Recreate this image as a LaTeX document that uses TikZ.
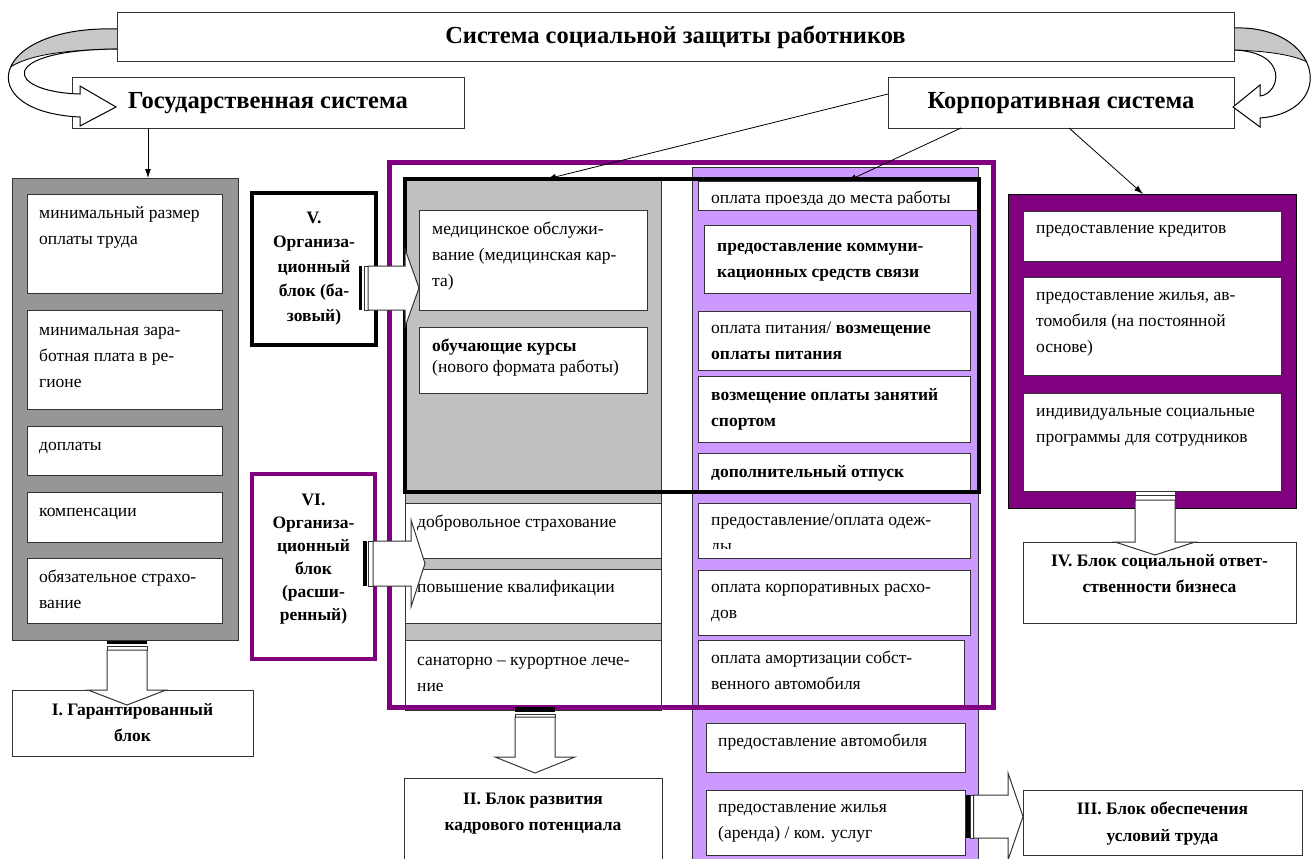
\documentclass[tikz,border=0pt]{standalone}
\usepackage{fontspec}
\setmainfont{Liberation Serif}
\usetikzlibrary{positioning,arrows.meta}
\definecolor{colgray}{RGB}{150,150,150}
\definecolor{midgray}{RGB}{192,192,192}
\definecolor{arrowgray}{RGB}{200,200,200}
\definecolor{lilac}{RGB}{204,153,255}
\definecolor{plum}{RGB}{128,0,128}

\begin{document}
\begin{tikzpicture}[x=1pt, y=-1pt,
  cell/.style={draw=black!80, fill=white, line width=1pt, inner sep=0pt, outer sep=0pt, anchor=north west},
  celltext/.style={font=\fontsize{17.5}{26}\selectfont, align=left, inner sep=0pt},
  boldtext/.style={celltext, font=\bfseries\fontsize{17.5}{26}\selectfont},
  blocktext/.style={font=\bfseries\fontsize{17.5}{26.5}\selectfont, align=center, inner sep=0pt,
    execute at end node=\strut},
  headtext/.style={font=\bfseries\fontsize{24.5}{30}\selectfont},
  blockarrow/.style={draw=black!80, fill=white, line width=1pt},
  thinarrow/.style={-{Latex[length=9pt,width=6pt]}, line width=0.8pt},
]
  \useasboundingbox (0,0) rectangle (1312,859);
  \clip (0,0) rectangle (1312,859);

  % Top row
  \node[cell, headtext, minimum width=392, minimum height=50] (gos) at (72,78) {Государственная система};
  \node[cell, headtext, minimum width=346, minimum height=50] (corp) at (888,78) {Корпоративная система};

  % Curved arrow, left
  \path[fill=white] (117,29) .. controls (-10,25) and (-30,112) .. (80,117) -- (80,126) -- (116,107) -- (80,86) -- (80,94) .. controls (5,92) and (-5,50) .. (117,49) -- cycle;
  \begin{scope}
    \clip (117,29) .. controls (-10,25) and (-30,112) .. (80,117) -- (80,94) .. controls (5,92) and (-5,50) .. (117,49) -- cycle;
    \fill[arrowgray] (120,0) -- (120,49) .. controls (60,50) and (20,55) .. (0,75) -- (0,0) -- cycle;
    \draw[line width=0.8pt] (120,49) .. controls (60,50) and (20,55) .. (0,75);
  \end{scope}
  \draw[line width=1pt] (117,29) .. controls (-10,25) and (-30,112) .. (80,117) -- (80,126) -- (116,107) -- (80,86) -- (80,94) .. controls (5,92) and (-5,50) .. (117,49);

  % Curved arrow, right
  \path[fill=white] (1234,28) .. controls (1322,25) and (1338,112) .. (1260,118) -- (1260,127) -- (1233,107) -- (1260,85) -- (1260,96) .. controls (1280,94) and (1290,52) .. (1234,50) -- cycle;
  \begin{scope}
    \clip (1234,28) .. controls (1322,25) and (1338,112) .. (1260,118) -- (1260,96) .. controls (1280,94) and (1290,52) .. (1234,50) -- cycle;
    \fill[arrowgray] (1230,0) -- (1230,50) .. controls (1280,51) and (1310,58) .. (1320,72) -- (1320,0) -- cycle;
    \draw[line width=0.8pt] (1230,50) .. controls (1280,51) and (1310,58) .. (1320,72);
  \end{scope}
  \draw[line width=1pt] (1234,28) .. controls (1322,25) and (1338,112) .. (1260,118) -- (1260,127) -- (1233,107) -- (1260,85) -- (1260,96) .. controls (1280,94) and (1290,52) .. (1234,50);

  \node[cell, headtext, minimum width=1117, minimum height=49] (title) at (117,13) {Система социальной защиты работников};

  % Left column
  \node[cell, fill=colgray, minimum width=226, minimum height=462] (gcol) at (12,178) {};
  \node[cell, minimum width=195, minimum height=99] (gmin1) at (27,194) {};
  \node[celltext, below right=6pt and 12pt of gmin1.north west] {\strut минимальный размер\\оплаты труда};
  \node[cell, minimum width=195, minimum height=99] (gmin2) at (27,310) {};
  \node[celltext, below right=7pt and 12pt of gmin2.north west] {\strut минимальная зара-\\ботная плата в ре-\\гионе};
  \node[cell, minimum width=195, minimum height=49] (gdop) at (27,426) {};
  \node[celltext, below right=6pt and 12pt of gdop.north west] {\strut доплаты};
  \node[cell, minimum width=195, minimum height=50] (gkomp) at (27,492) {};
  \node[celltext, below right=6pt and 12pt of gkomp.north west] {\strut компенсации};
  \node[cell, minimum width=195, minimum height=65] (gobz) at (27,558) {};
  \node[celltext, below right=6pt and 12pt of gobz.north west] {\strut обязательное страхо-\\вание};
  \node[cell, blocktext, minimum width=241, minimum height=66] (blockI) at (12,690) {\strut I. Гарантированный\\блок};

  % Middle column
  \node[cell, fill=midgray, minimum width=256, minimum height=528] (mcol) at (405,179) {};
  \node[cell, minimum width=228, minimum height=100] (med) at (419,210) {};
  \node[celltext, below right=6pt and 13pt of med.north west] {\strut медицинское обслужи-\\вание (медицинская кар-\\та)};
  \node[cell, minimum width=228, minimum height=66] (kurs) at (419,327) {};
  \node[celltext, below right=6pt and 13pt of kurs.north west] {\strut\textbf{обучающие курсы}\\[-5pt](нового формата работы)};
  \node[cell, minimum width=256, minimum height=55] (dobr) at (405,503) {};
  \node[celltext, below right=6pt and 12pt of dobr.north west] {\strut добровольное страхование};
  \node[cell, minimum width=256, minimum height=54] (povysh) at (405,569) {};
  \node[celltext, below right=5pt and 12pt of povysh.north west] {\strut повышение квалификации};
  \node[cell, minimum width=256, minimum height=70] (sanat) at (405,640) {};
  \node[celltext, below right=7pt and 12pt of sanat.north west] {\strut санаторно – курортное лече-\\ние};
  \node[cell, minimum width=258, minimum height=100] (blockII) at (404,778) {};
  \node[blocktext, below=7.5pt of blockII.north] {\strut II. Блок развития\\кадрового потенциала};

  % Purple column
  \node[cell, fill=lilac, minimum width=286, minimum height=720] (pcol) at (692,167) {};
  \node[cell, minimum width=279, minimum height=29] (p1) at (698,181) {};
  \begin{scope}
    \clip (p1.north west) rectangle ([yshift=6pt]p1.south east);
    \node[celltext, below right=4pt and 13pt of p1.north west] {\strut оплата проезда до места работы};
  \end{scope}
  \node[cell, minimum width=266, minimum height=68] (p2) at (704,225) {};
  \node[boldtext, below right=8pt and 13pt of p2.north west] {\strut предоставление коммуни-\\кационных средств связи};
  \node[cell, minimum width=272, minimum height=59] (p3) at (698,311) {};
  \node[celltext, below right=4pt and 13pt of p3.north west] {\strut оплата питания/ \textbf{возмещение}\\\textbf{оплаты питания}};
  \node[cell, minimum width=272, minimum height=66] (p4) at (698,376) {};
  \node[boldtext, below right=6pt and 13pt of p4.north west] {\strut возмещение оплаты занятий\\спортом};
  \node[cell, minimum width=272, minimum height=37] (p5) at (698,453) {};
  \node[boldtext, below right=6pt and 13pt of p5.north west] {\strut дополнительный отпуск};
  \node[cell, minimum width=272, minimum height=55] (p6) at (698,503) {};
  \begin{scope}
    \clip (p6.north west) rectangle ([yshift=10pt]p6.south east);
    \node[celltext, below right=4pt and 13pt of p6.north west] {\strut предоставление/оплата одеж-\\ды};
  \end{scope}
  \node[cell, minimum width=272, minimum height=65] (p7) at (698,570) {};
  \node[celltext, below right=4pt and 13pt of p7.north west] {\strut оплата корпоративных расхо-\\дов};
  \node[cell, minimum width=266, minimum height=67] (p8) at (698,640) {};
  \node[celltext, below right=5pt and 13pt of p8.north west] {\strut оплата амортизации собст-\\венного автомобиля};
  \node[cell, minimum width=259, minimum height=49] (p9) at (706,723) {};
  \node[celltext, below right=5pt and 12pt of p9.north west] {\strut предоставление автомобиля};
  \node[cell, minimum width=259, minimum height=65] (p10) at (706,790) {};
  \node[celltext, below right=4pt and 12pt of p10.north west] {\strut предоставление жилья\\(аренда) / ком. услуг};
  \node[cell, blocktext, minimum width=279, minimum height=65] (blockIII) at (1023,790) {\strut III. Блок обеспечения\\условий труда};

  % Right column
  \node[cell, fill=plum, draw=black, minimum width=288, minimum height=314] (rframe) at (1008,194) {};
  \node[cell, minimum width=258, minimum height=50] (r1) at (1023,211) {};
  \node[celltext, below right=4pt and 13pt of r1.north west] {\strut предоставление кредитов};
  \node[cell, minimum width=258, minimum height=98] (r2) at (1023,277) {};
  \node[celltext, below right=5pt and 13pt of r2.north west] {\strut предоставление жилья, ав-\\томобиля (на постоянной\\основе)};
  \node[cell, minimum width=258, minimum height=98] (r3) at (1023,393) {};
  \node[celltext, below right=5pt and 13pt of r3.north west] {\strut индивидуальные социальные\\программы для сотрудников};
  \node[cell, minimum width=273, minimum height=81] (blockIV) at (1023,542) {};
  \node[blocktext, below=5.5pt of blockIV.north] {\strut IV. Блок социальной ответ-\\ственности бизнеса};

  % Frames of blocks V and VI
  \node[draw=plum, line width=5pt, anchor=north west, inner sep=0pt, outer sep=0pt, minimum width=604, minimum height=545] (orgframe) at (389,162) {};
  \node[draw=black, line width=4pt, anchor=north west, inner sep=0pt, outer sep=0pt, minimum width=574, minimum height=313] (vframe) at (405,179) {};

  % Blocks V and VI
  \node[cell, draw=black, line width=4pt, minimum width=124, minimum height=152] (vbox) at (252,193) {};
  \node[blocktext, font=\bfseries\fontsize{17.5}{24.5}\selectfont, below=12.8pt of vbox.north] {\strut V.\\Организа-\\ционный\\блок (ба-\\зовый)};
  \node[cell, draw=plum, line width=4pt, minimum width=123, minimum height=185] (vibox) at (252,474) {};
  \node[blocktext, font=\bfseries\fontsize{17.5}{23}\selectfont, below=15pt of vibox.north] {\strut VI.\\Организа-\\ционный\\блок\\(расши-\\ренный)};

  % Thin arrows
  \coordinate (gtip) at ([xshift=23pt]gcol.north);
  \draw[thinarrow] (gos.south -| gtip) -- (gtip);
  \draw[thinarrow] ([yshift=9pt]corp.west) -- ([xshift=-145pt]vframe.north);
  \draw[thinarrow] ([xshift=-100pt]corp.south) -- ([xshift=10pt]p1.north);
  \draw[thinarrow] ([xshift=8pt]corp.south) -- ([xshift=-9pt]rframe.north);

  % Block arrow V
  \coordinate (aV) at ([xshift=-17pt,yshift=-19pt]vbox.east);
  \fill (aV) ++(0,-22) rectangle ++(3,44);
  \draw[blockarrow] (aV) ++(5,-22) rectangle ++(4,44);
  \draw[blockarrow] (aV) ++(9,-22) -- ++(37,0) -- ++(0,-17) -- ++(14,39) -- ++(-14,39) -- ++(0,-17) -- ++(-37,0) -- cycle;

  % Block arrow VI
  \coordinate (aVI) at ([xshift=-12pt,yshift=3pt]vibox.east);
  \fill (aVI) ++(0,-22.5) rectangle ++(3.5,45);
  \draw[blockarrow] (aVI) ++(5.5,-22.5) rectangle ++(4.5,45);
  \draw[blockarrow] (aVI) ++(10,-22.5) -- ++(38,0) -- ++(0,-21) -- ++(14,43.5) -- ++(-14,43.5) -- ++(0,-21) -- ++(-38,0) -- cycle;

  % Block arrow I
  \coordinate (aI) at ([xshift=-18pt]gcol.south);
  \fill (aI) ++(0,1) rectangle ++(40,3);
  \draw[blockarrow] (aI) ++(0,6) rectangle ++(40,4);
  \draw[blockarrow] (aI) ++(0,10) -- ++(0,40) -- ++(-19,0) -- ++(39,15) -- ++(39,-15) -- ++(-19,0) -- ++(0,-40) -- cycle;

  % Block arrow II
  \coordinate (aII) at ([xshift=-18pt]mcol.south);
  \fill (aII) rectangle ++(40,5);
  \draw[blockarrow] (aII) ++(0,7) rectangle ++(40,3);
  \draw[blockarrow] (aII) ++(0,10) -- ++(0,40) -- ++(-20,0) -- ++(40,16) -- ++(40,-16) -- ++(-20,0) -- ++(0,-40) -- cycle;

  % Block arrow III
  \coordinate (aIII) at ([yshift=6pt]p10.east);
  \fill (aIII) ++(1,-21.5) rectangle ++(3.5,43);
  \draw[blockarrow] (aIII) ++(5.5,-21.5) rectangle ++(3,43);
  \draw[blockarrow] (aIII) ++(8.5,-21.5) -- ++(34.5,0) -- ++(0,-22) -- ++(15,43.5) -- ++(-15,43.5) -- ++(0,-22) -- ++(-34.5,0) -- cycle;

  % Block arrow IV
  \coordinate (aIV) at ([xshift=-17pt]r3.south);
  \draw[blockarrow] (aIV) rectangle ++(40,4.5);
  \draw[blockarrow] (aIV) ++(0,4.5) rectangle ++(40,4.5);
  \draw[blockarrow] (aIV) ++(0,9) -- ++(0,42) -- ++(-20,0) -- ++(40,13) -- ++(40,-13) -- ++(-20,0) -- ++(0,-42) -- cycle;
\end{tikzpicture}
\end{document}
